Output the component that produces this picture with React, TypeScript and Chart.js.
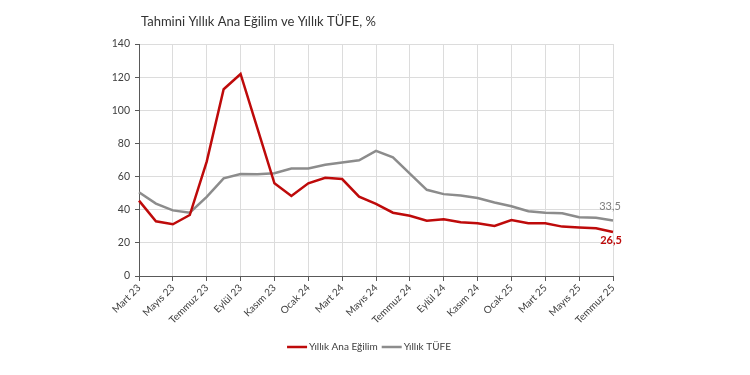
import React, { useEffect, useRef } from 'react';
import { Chart, registerables } from 'chart.js';

Chart.register(...registerables);

const months = ['Mart 23', 'Nisan 23', 'Mayıs 23', 'Haziran 23', 'Temmuz 23', 'Ağustos 23', 'Eylül 23', 'Ekim 23', 'Kasım 23', 'Aralık 23', 'Ocak 24', 'Şubat 24', 'Mart 24', 'Nisan 24', 'Mayıs 24', 'Haziran 24', 'Temmuz 24', 'Ağustos 24', 'Eylül 24', 'Ekim 24', 'Kasım 24', 'Aralık 24', 'Ocak 25', 'Şubat 25', 'Mart 25', 'Nisan 25', 'Mayıs 25', 'Haziran 25', 'Temmuz 25'];

const anaEgilim = [45.5, 33, 31.2, 36.8, 69, 112.7, 121.9, 89, 55.9, 48.3, 55.9, 59.3, 58.5, 47.9, 43.5, 38.2, 36.4, 33.4, 34.2, 32.4, 31.8, 30.2, 33.8, 31.8, 31.8, 29.8, 29.2, 28.8, 26.5];

const tufe = [50.5, 43.7, 39.6, 38.2, 47.8, 58.9, 61.5, 61.4, 62.0, 64.8, 64.9, 67.1, 68.5, 69.8, 75.5, 71.6, 61.8, 52.0, 49.4, 48.6, 47.1, 44.4, 42.1, 39.1, 38.1, 37.9, 35.4, 35.1, 33.5];

const title = 'Tahmini Yıllık Ana Eğilim ve Yıllık TÜFE, %';
const seriesNames = ['Yıllık Ana Eğilim', 'Yıllık TÜFE'];
const lastLabels = ['26,5', '33,5'];

const FONT = 'Lato, "Open Sans", sans-serif';
const RED = '#BE0A0A';
const GREY = '#8C8C8C';

const extras = {
  id: 'extras',
  afterDraw(chart: any) {
    const ctx = chart.ctx;
    const area = chart.chartArea;
    ctx.save();
    // title
    ctx.fillStyle = '#333333';
    ctx.font = `13px ${FONT}`;
    ctx.textAlign = 'left';
    ctx.textBaseline = 'middle';
    ctx.fillText(title, area.left + 2, 22);

    // end labels
    const m0 = chart.getDatasetMeta(0).data;
    const m1 = chart.getDatasetMeta(1).data;
    const p0 = m0[m0.length - 1];
    const p1 = m1[m1.length - 1];
    ctx.textAlign = 'center';
    ctx.font = `bold 11px ${FONT}`;
    ctx.fillStyle = RED;
    ctx.fillText(lastLabels[0], p0.x - 2, p0.y + 8);
    ctx.font = `11px ${FONT}`;
    ctx.fillStyle = '#7F7F7F';
    ctx.fillText(lastLabels[1], p1.x - 3, p1.y - 14);

    // legend
    ctx.font = `10px ${FONT}`;
    const colors = [RED, GREY];
    const lineW = 20;
    const gapText = 2;
    const gapItem = 4;
    const widths = seriesNames.map((s) => ctx.measureText(s).width);
    const total = widths.reduce((a, w) => a + lineW + gapText + w, 0) + gapItem;
    let x = 369 - total / 2;
    const y = 347;
    ctx.textAlign = 'left';
    seriesNames.forEach((s, i) => {
      ctx.strokeStyle = colors[i];
      ctx.lineWidth = 2.5;
      ctx.beginPath();
      ctx.moveTo(x, y);
      ctx.lineTo(x + lineW, y);
      ctx.stroke();
      x += lineW + gapText;
      ctx.fillStyle = '#404040';
      ctx.fillText(s, x, y);
      x += widths[i] + gapItem;
    });
    ctx.restore();
  },
};

export default function App() {
  const ref = useRef<HTMLCanvasElement>(null);
  useEffect(() => {
    const chart = new Chart(ref.current!, {
      type: 'line',
      data: {
        labels: months,
        datasets: [
          {
            label: seriesNames[0],
            data: anaEgilim,
            borderColor: RED,
            backgroundColor: RED,
            borderWidth: 2.5,
            pointRadius: 0,
            tension: 0,
          },
          {
            label: seriesNames[1],
            data: tufe,
            borderColor: GREY,
            backgroundColor: GREY,
            borderWidth: 2.5,
            pointRadius: 0,
            tension: 0,
          },
        ],
      },
      options: {
        responsive: true,
        maintainAspectRatio: false,
        animation: false,
        layout: { padding: { top: 44, left: 100, right: 137, bottom: 0 } },
        plugins: {
          legend: { display: false },
          title: { display: false },
          tooltip: { enabled: false },
        },
        scales: {
          x: {
            afterFit: (s: any) => {
              s.height = 99;
            },
            grid: {
              color: '#dcdcdc',
              tickColor: '#595959',
              tickLength: 5,
              drawTicks: true,
            },
            border: { color: '#595959', width: 1 },
            ticks: {
              autoSkip: false,
              minRotation: 45,
              maxRotation: 45,
              padding: 1,
              color: '#404040',
              font: { family: FONT, size: 10 },
              callback: (_v: any, i: number) => (i % 2 === 0 ? months[i] : null),
            },
          },
          y: {
            min: 0,
            max: 140,
            afterFit: (s: any) => {
              s.width = 39;
            },
            grid: {
              color: '#dcdcdc',
              tickColor: '#595959',
              tickLength: 4,
            },
            border: { color: '#595959', width: 1 },
            ticks: {
              stepSize: 20,
              padding: 5,
              color: '#404040',
              font: { family: FONT, size: 10.5 },
            },
          },
        },
      },
      plugins: [extras],
    });
    return () => chart.destroy();
  }, []);
  return (
    <div style={{ position: 'fixed', left: 0, top: 0, width: 750, height: 375, background: '#fff' }}>
      <canvas ref={ref} />
    </div>
  );
}
